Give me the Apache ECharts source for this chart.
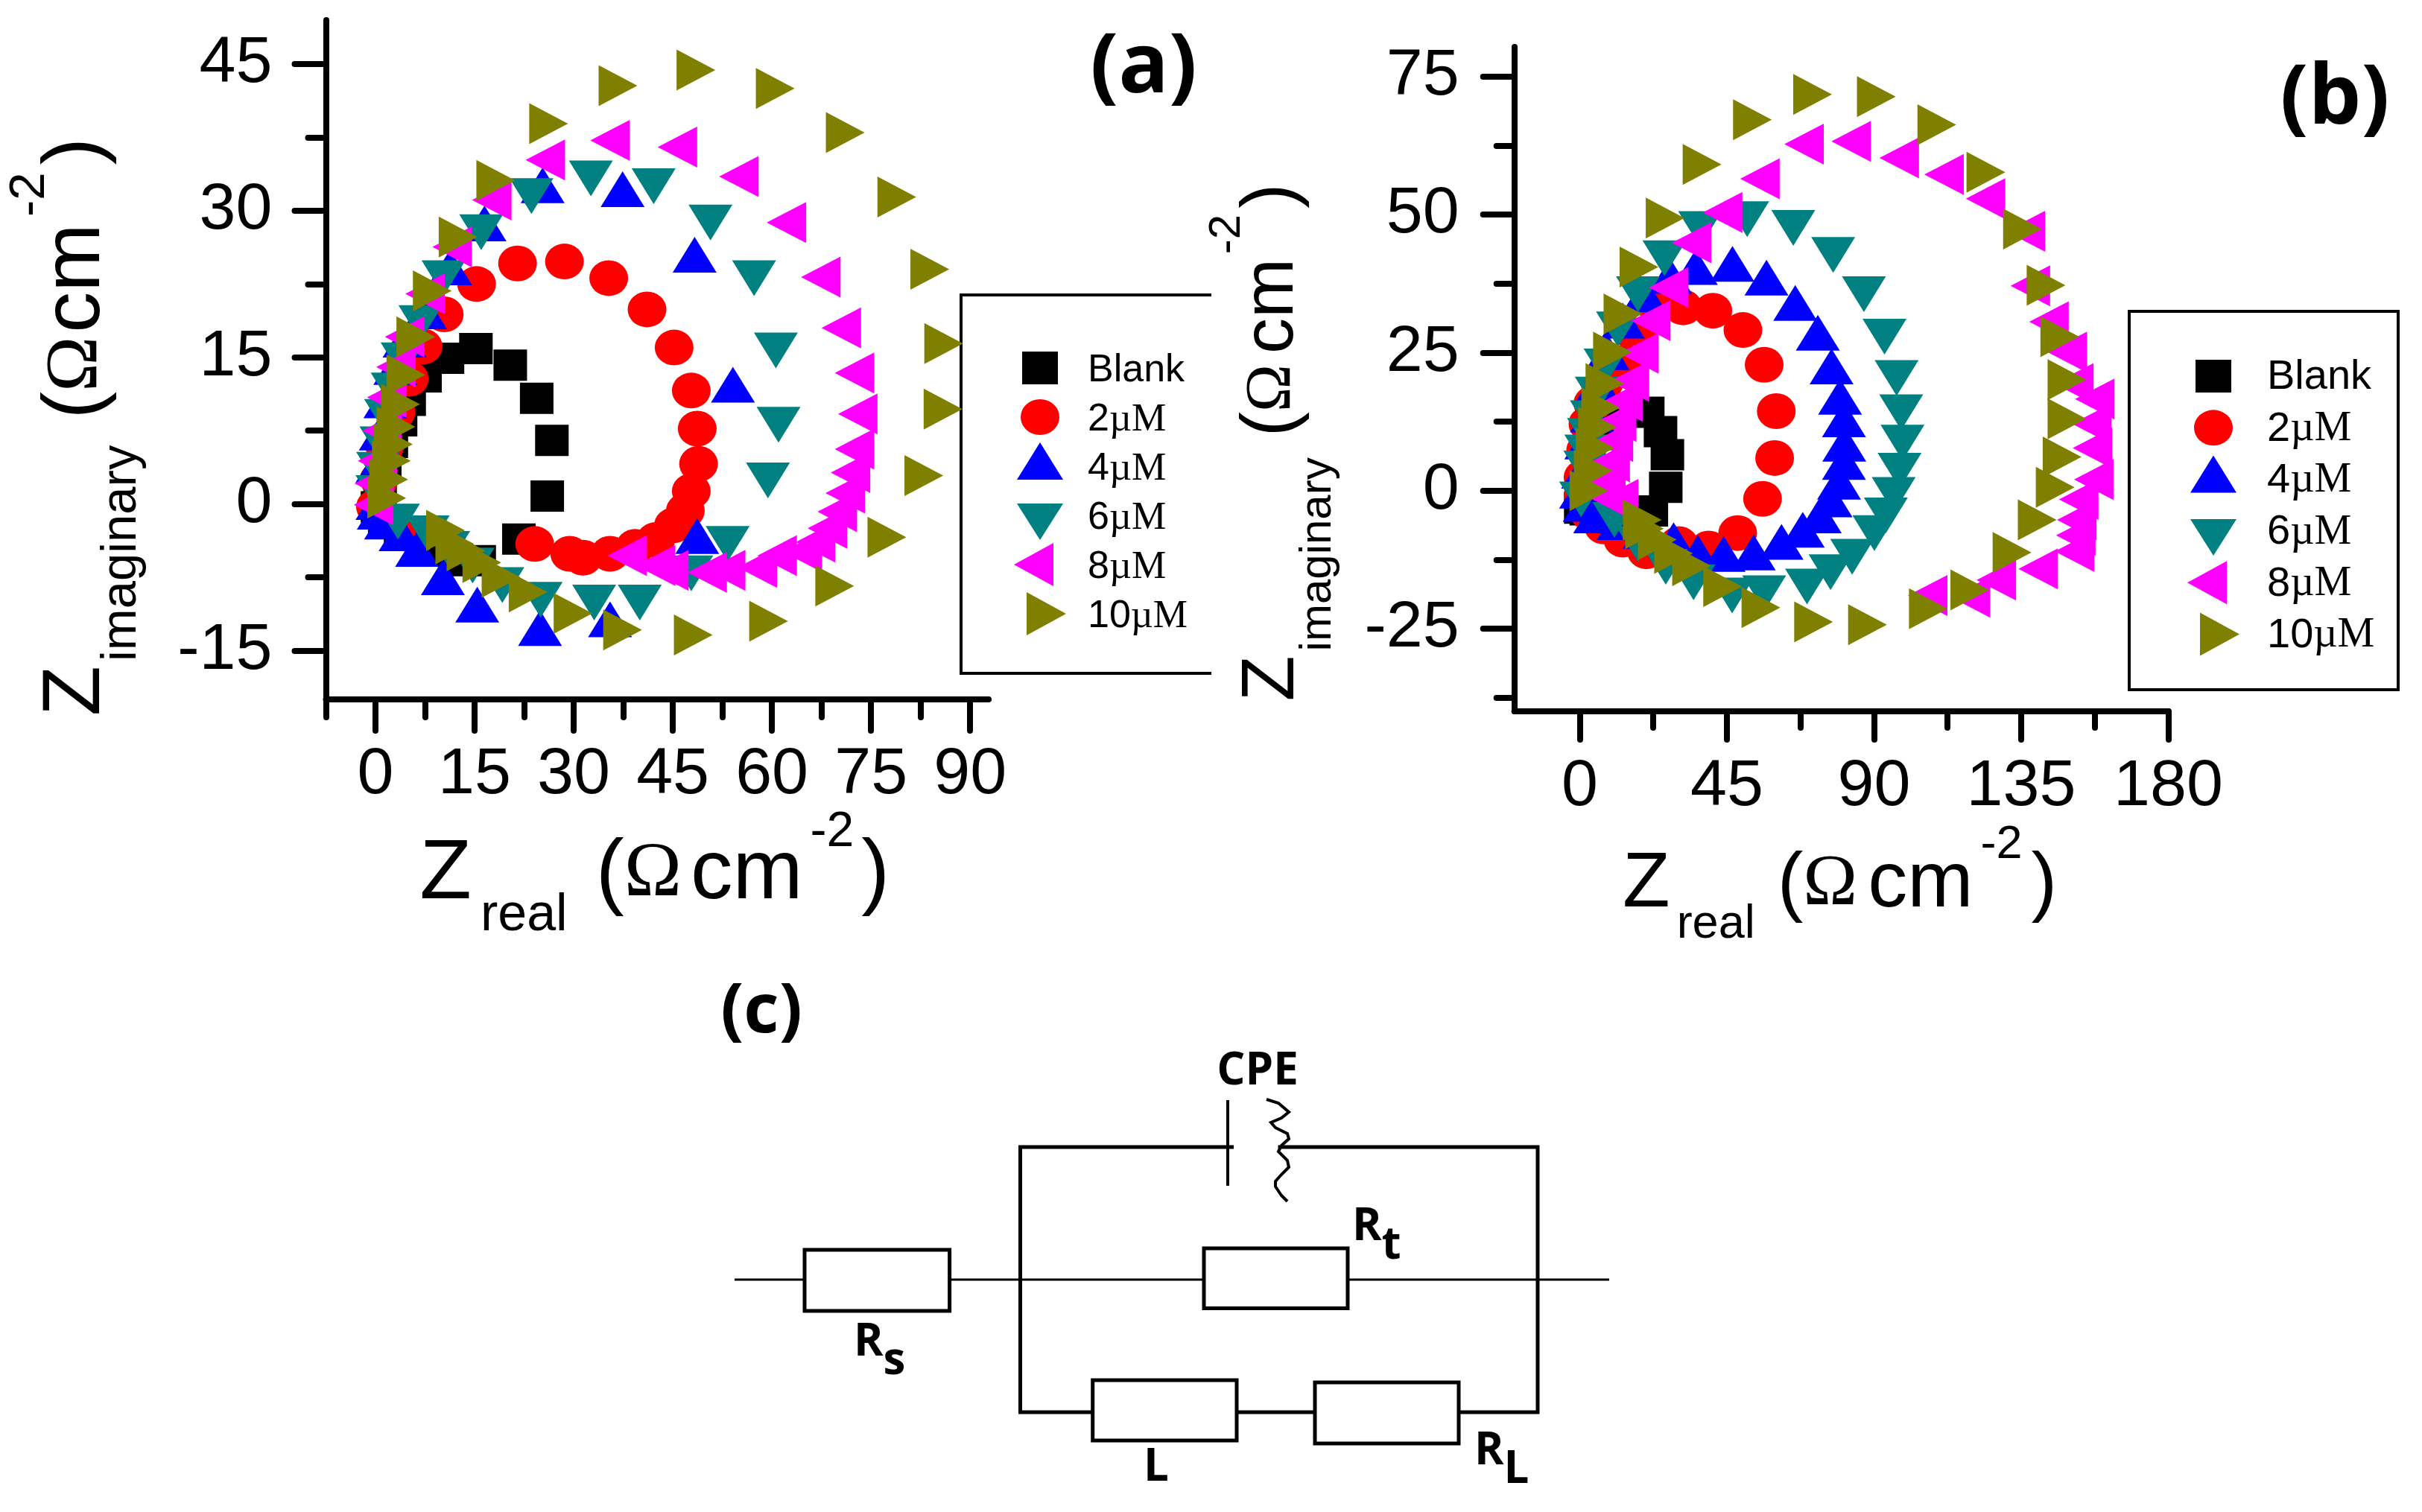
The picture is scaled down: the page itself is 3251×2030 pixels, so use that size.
<!DOCTYPE html>
<html><head><meta charset="utf-8">
<style>html,body{margin:0;padding:0;background:#fff}#c{width:3251px;height:2030px}</style>
<script src="https://cdn.jsdelivr.net/npm/echarts@6/dist/echarts.min.js"></script>
</head><body><div id="c"></div>
<script>
// ---- panel (a) data: [Zreal, Zimaginary]
const aBlank=[[15.2,15.9],[10.9,14.9],[7.5,13.0],[5.1,10.6],[3.8,8.5],[2.4,6.3],[1.4,4.0],[0.7,1.6],[0.3,-0.3],[1.4,-1.8],[3.8,-3.2],[8.2,-4.6],[12.0,-5.8],[15.7,-5.8],[21.7,-3.6],[26.0,0.8],[26.7,6.5],[24.4,10.8],[20.4,14.2]];
const a2=[[0,-0.3],[0.55,2.5],[1.4,5.9],[3.1,9.4],[5.1,12.8],[7.2,16.1],[10.4,19.4],[15.3,22.5],[21.5,24.6],[28.6,24.8],[35.3,23.1],[41.1,19.9],[45.2,16.0],[47.8,11.6],[48.7,7.7],[48.9,4.1],[47.8,1.3],[46.9,-0.7],[45.1,-2.2],[42.4,-3.7],[39.3,-4.4],[35.5,-5.1],[31.4,-5.5],[29.4,-5.1],[24.1,-4.1],[6.1,-3.4],[2.0,-1.8]];
const a4=[[0.3,0.2],[0.3,4.0],[0.8,7.3],[1.5,10.6],[3.0,14.0],[4.4,16.8],[7.5,19.7],[11.3,24.2],[16.5,28.7],[25.3,32.6],[37.4,32.2],[48.3,25.5],[54.1,12.2],[48.7,-3.3],[35.5,-11.8],[24.9,-12.7],[15.4,-10.3],[10.2,-7.5],[6.3,-4.6],[3.8,-3.0],[1.6,-1.8],[0.5,-0.8]];
const a6=[[0.3,1.1],[0.4,3.5],[0.9,6.1],[1.6,8.9],[2.6,11.6],[4.1,14.7],[6.8,18.5],[10.3,23.1],[16.0,27.8],[23.6,31.5],[32.6,33.3],[42.1,32.5],[50.7,28.8],[57.3,23.1],[60.6,15.7],[61.0,8.1],[59.4,2.4],[53.3,-4.1],[47.8,-7.1],[40.0,-10.1],[33.1,-10.1],[25.0,-9.8],[19.2,-8.3],[14.7,-6.3],[11.0,-4.6],[7.9,-3.0],[3.4,-1.8]];
const a8=[[-0.3,-0.1],[-0.2,2.1],[0.3,4.4],[1.0,7.5],[1.7,10.9],[3.1,14.0],[4.4,17.1],[7.5,21.5],[11.6,26.3],[17.6,31.1],[25.7,35.2],[35.5,37.2],[45.7,36.5],[55.0,33.5],[62.2,28.8],[67.4,23.2],[70.5,18.0],[72.5,13.4],[73.0,9.2],[72.5,5.6],[71.9,3.2],[71.1,1.1],[69.9,-0.8],[68.4,-2.5],[66.6,-3.9],[64.6,-4.9],[60.8,-5.3],[57.8,-6.5],[53.0,-6.8],[50.2,-7.0],[44.4,-6.8],[42.4,-6.3],[38.1,-5.3]];
const a10=[[1.7,0.6],[2.0,2.5],[2.4,4.4],[2.7,6.1],[3.1,7.9],[3.8,10.2],[4.6,13.2],[6.1,17.1],[8.6,21.8],[12.5,27.3],[18.2,33.1],[26.2,38.9],[36.7,42.8],[48.5,44.4],[60.5,42.5],[71.1,38.0],[78.9,31.4],[83.9,24.0],[86.0,16.4],[85.9,9.7],[83.0,2.9],[77.4,-3.4],[69.5,-8.4],[59.5,-12.0],[48.1,-13.4],[37.4,-12.9],[29.9,-11.2],[23.1,-9.0],[19.0,-7.5],[16.1,-6.0],[13.7,-4.8],[12.0,-4.1],[10.6,-2.7]];
// ---- panel (b) data
const bBlank=[[0.3,-3.2],[2,-3.5],[8.0,-5],[15.8,-5.5],[21.9,-3.7],[26.3,0.6],[26.8,6.5],[24.7,10.7],[20.8,14.2],[11.9,14.6],[5.4,10.5],[2.8,5.7],[1,0.8]];
const b2=[[1,2.4],[1.8,7.3],[2.5,12.1],[4,15.8],[7.3,19.4],[13.2,23.1],[17.8,27.5],[23.7,33.2],[31.6,33.2],[40.7,32.6],[49.9,29.1],[56.4,22.8],[60.1,14.4],[59.6,5.9],[55.9,-1.5],[48.3,-7.7],[39.4,-10.5],[30.3,-9.7],[20.4,-11],[13.2,-8.9],[7.3,-6.5],[3,-4.1],[1,-0.8]];
const b4=[[0.4,0],[1,3.6],[2,8.9],[3.7,13.8],[5.5,19.4],[8.5,25.1],[13.2,30.8],[19.8,35.6],[27.6,38.9],[35.5,40.5],[46.7,41.1],[57.1,38.6],[65.9,34.0],[72.8,28.6],[77.0,22.5],[79.6,17.0],[80.8,12.9],[80.9,8.5],[80.8,5.2],[79.3,1.6],[76.7,-1.6],[73.4,-4.5],[68.2,-7.1],[61.7,-9.3],[53.2,-11.2],[44,-11.5],[36.1,-11.3],[28.7,-9],[19.8,-7.3],[11.9,-5.7],[4.7,-4.5],[1.5,-2.4]];
const b6=[[0.4,-1.6],[1.7,4],[2,6.9],[2.8,9.9],[3.7,13.1],[5.2,17.4],[7.9,22.5],[11.7,29.2],[17.8,35.6],[25.9,42.1],[36.8,47.4],[51.2,49.2],[65.3,47.6],[77.5,42.7],[86.9,35.6],[93.2,27.9],[96.9,20.4],[98.3,14.2],[98.7,8.7],[97.8,3.6],[96.0,-0.8],[93.6,-4.5],[90.1,-7.7],[83.3,-12],[76.7,-14.8],[69.5,-17.4],[56.4,-18.6],[46.6,-19.0],[34.8,-16.6],[26.3,-13.8],[17.8,-9.7],[10.6,-5.3]];
const b8=[[7.3,-0.8],[5.4,0],[8,2],[9.3,5.2],[10.3,8.9],[11.3,12.5],[13.2,16.2],[15.2,19.8],[18.1,24.9],[21.7,30.8],[27.2,36.8],[34.2,44.9],[43.7,50.4],[55.1,56.5],[68.6,62.8],[83,63.3],[97.7,60.3],[111.4,57.3],[124.1,52.9],[136.3,47],[137.8,37.1],[143.5,30.6],[149.1,25.1],[151.1,19.4],[157.5,16.6],[156.6,12.1],[156.8,7.7],[157.2,2],[152.6,-1.6],[152,-5.3],[151.7,-8.1],[151.3,-11],[140.2,-14.2],[127.4,-16.2],[119.5,-19.3],[106.4,-19.0],[11.9,-1.6]];
const b10=[[2.8,0],[4.1,3.6],[4.7,7.7],[5.4,11.5],[6.4,15],[7.7,19.4],[10,25.1],[13.2,32],[18.1,40.5],[26.1,49.4],[37.4,59.1],[52.8,67.2],[71.2,71.8],[90.7,71.4],[109.2,66.3],[124.2,57.7],[135.4,47.4],[142.6,37.2],[146.8,27.9],[149,20.1],[149,13],[147.5,6.1],[145.4,0.6],[139.9,-5.3],[132.2,-11.2],[119.3,-18],[106.6,-21.4],[88,-24.3],[71.5,-23.8],[55.4,-21.2],[43.7,-17.4],[34.2,-13.6],[28.7,-11.4],[23.7,-8.9],[19.8,-6.9],[19.1,-5.3]];
// ---- legend names and axis ticks
const seriesNames=['Blank','2µM','4µM','6µM','8µM','10µM'];
const aXMajor=[0,15,30,45,60,75,90], aXMinor=[-7.5,7.5,22.5,37.5,52.5,67.5,82.5];
const aYMajor=[-15,0,15,30,45], aYMinor=[-7.5,7.5,22.5,37.5];
const bXMajor=[0,45,90,135,180], bXMinor=[22.5,67.5,112.5,157.5];
const bYMajor=[-25,0,25,50,75], bYMinor=[-37.5,-12.5,12.5,37.5,62.5];

const SANS='"Liberation Sans",Arial,sans-serif', SERIF='"Liberation Serif",serif', BOLD='"Open Sans",sans-serif';
const chart=echarts.init(document.getElementById('c'),null,{renderer:'canvas'});

function titleRich(o){ return {
  z:{fontFamily:SANS,fontSize:o.z,lineHeight:o.L,color:'#000'},
  sub:{fontFamily:SANS,fontSize:o.sub,lineHeight:o.sub,verticalAlign:'bottom',color:'#000',padding:[0,0,0,o.p[0]]},
  lp:{fontFamily:SANS,fontSize:o.z,lineHeight:o.L,color:'#000',padding:[0,0,0,o.p[1]]},
  om:{fontFamily:SERIF,fontSize:o.om,lineHeight:o.L,color:'#000'},
  cm:{fontFamily:SANS,fontSize:o.cm,lineHeight:o.L,color:'#000',padding:[0,0,0,o.p[2]]},
  sup:{fontFamily:SANS,fontSize:o.sup,lineHeight:o.supH,verticalAlign:'top',color:'#000',padding:[0,0,0,o.p[3]]},
  rp:{fontFamily:SANS,fontSize:o.z,lineHeight:o.L,color:'#000',padding:[0,0,0,o.p[4]]}
};}
function title(sub){return '{z|Z}{sub|'+sub+'}{lp|(}{om|Ω}{cm|cm}{sup|-2}{rp|)}';}

function axisPair(type,grid,min,max,major,minor,nm,gap,rich,pad,labelMargin,majLen,minLen){
  const common={type:'value',gridIndex:grid,min,max,position:type==='x'?'bottom':'left',splitLine:{show:false},z:2};
  const tick=(vals,len)=>({show:true,length:len,inside:false,customValues:vals,lineStyle:{color:'#000',width:8,cap:'round'}});
  return [
   Object.assign({},common,{
     axisLine:{show:true,onZero:false,lineStyle:{color:'#000',width:8,cap:'round'}},
     axisTick:tick(major,majLen),
     axisLabel:{show:true,customValues:major,margin:labelMargin,fontFamily:SANS,fontSize:88,color:'#000',showMinLabel:true,showMaxLabel:true,hideOverlap:false},
     name:nm,nameLocation:'middle',nameGap:gap,nameRotate:type==='x'?0:90,nameMoveOverlap:false,
     nameTextStyle:{rich,padding:pad}
   }),
   Object.assign({},common,{
     axisLine:{show:false,onZero:false},
     axisTick:tick(minor,minLen),
     axisLabel:{show:false}
   })
  ];
}
const xRichA=titleRich({z:114,sub:70,sup:66,om:104,cm:113,L:180,supH:98,p:[12,38,12,10,10]});
const yRichA=titleRich({z:110,sub:67,sup:67,om:100,cm:110,L:190,supH:106,p:[6,35,5,9,10]});
const xRichB=titleRich({z:104,sub:63,sup:63,om:98,cm:106,L:170,supH:100,p:[9,30,14,10,12]});
const yRichB=titleRich({z:100,sub:60,sup:60,om:86,cm:96,L:182,supH:100,p:[6,28,14,6,8]});

const xAxes=[
 ...axisPair('x',0,-7.5,92.8,aXMajor,aXMinor,title('real'),146,xRichA,[0,7,0,0],58,42,24),
 ...axisPair('x',1,-20,180,bXMajor,bXMinor,title('real'),148,xRichB,[0,4,0,0],58,38,22)
];
const yAxes=[
 ...axisPair('y',0,-20,49.5,aYMajor,aYMinor,title('imaginary'),240,yRichA,[0,180,0,0],72,42,24),
 ...axisPair('y',1,-40,80.4,bYMajor,bYMinor,title('imaginary'),233,yRichB,[0,170,0,0],74,42,24)
];

const styles=[
 {symbol:'rect',size:[45,42],rotate:0,color:'#000000'},
 {symbol:'circle',size:[52,48],rotate:0,color:'#ff0000'},
 {symbol:'triangle',size:[59,48],rotate:0,color:'#0000ff'},
 {symbol:'triangle',size:[59,48],rotate:180,color:'#008080'},
 {symbol:'triangle',size:[55,53],rotate:90,color:'#ff00ff'},
 {symbol:'triangle',size:[55,52],rotate:-90,color:'#808000'}
];
const dataA=[aBlank,a2,a4,a6,a8,a10], dataB=[bBlank,b2,b4,b6,b8,b10];
const series=[];
[[dataA,0,0],[dataB,2,2]].forEach(([sets,xi,yi])=>{
  sets.forEach((d,i)=>{
    const s=styles[i];
    series.push({type:'scatter',name:seriesNames[i],xAxisIndex:xi,yAxisIndex:yi,data:d,clip:false,
      symbol:s.symbol,symbolSize:s.size,symbolRotate:s.rotate,
      itemStyle:{color:s.color,opacity:1},emphasis:{disabled:true},z:3+i});
  });
});

// legend icons: each path keeps a 70x66 frame (zero-area corners) so markers can sit off-centre as in the figure
const FRAME='M0,0L0,0ZM70,66L70,66Z';
const legendIcons=[
 'path://'+FRAME+'M11,11L59,11L59,55L11,55Z',
 'path://'+FRAME+'M9,33a26,24 0 1 0 52,0a26,24 0 1 0 -52,0Z',
 'path://'+FRAME+'M4,51L35,1L66,51Z',
 'path://'+FRAME+'M4,17L66,17L35,66Z',
 'path://'+FRAME+'M0,33L53,4L53,62Z',
 'path://'+FRAME+'M17,4L70,33L17,62Z'
];
function legendCfg(left,top,gap,font,textPad,textDown){
  return {left,top,orient:'vertical',padding:0,itemWidth:70,itemHeight:66,itemGap:gap,selectedMode:false,symbolKeepAspect:true,
    data:seriesNames.map((n,i)=>({name:n,icon:legendIcons[i],symbolKeepAspect:true,itemStyle:{color:styles[i].color}})),
    formatter:n=>n==='Blank'?'{u|Blank}':'{u|'+n.replace('µM','')+'}{m|µM}',
    textStyle:{rich:{
      u:{fontFamily:SANS,fontSize:font,lineHeight:50,color:'#000',padding:[textDown,0,0,textPad]},
      m:{fontFamily:SERIF,fontSize:font,lineHeight:50,color:'#000',padding:[textDown,0,0,0]}
    }}};
}

function ln(points,w){return {type:'polyline',shape:{points},style:{stroke:'#000',lineWidth:w||3,fill:null,lineJoin:'miter'},z:5};}
function box(x1,y1,x2,y2,w){return {type:'rect',shape:{x:x1,y:y1,width:x2-x1,height:y2-y1},style:{stroke:'#000',lineWidth:w||4,fill:null},z:5};}
function tag(t,x,y,size){return {type:'text',x,y,z:6,style:{text:t,fontFamily:BOLD,fontWeight:'bold',fontSize:size,fill:'#000',align:'center',verticalAlign:'middle'}};}
function resist(main,sub,x,base){
  return {type:'text',x,y:base-76.6,z:6,style:{text:'{r|'+main+'}{s|'+sub+'}',align:'left',verticalAlign:'top',
    rich:{r:{fontFamily:BOLD,fontWeight:'bold',fontSize:60,lineHeight:110,fill:'#000',color:'#000'},
          s:{fontFamily:BOLD,fontWeight:'bold',fontSize:60,lineHeight:60,verticalAlign:'bottom',fill:'#000',color:'#000'}}}};
}
const cpeWave=[[1700,1476],[1716,1481],[1730,1493],[1720,1501],[1706,1507],[1712,1514],[1728,1522],[1730,1529],[1720,1538],[1716,1546],[1728,1558],[1730,1567],[1720,1577],[1712,1586],[1712,1593],[1720,1605],[1728,1613]];

const graphic={elements:[
  ln([[1626,396],[1290,396],[1290,904],[1626,904]],4),
  box(2858,418,3219,926,4),
  tag('(a)',1535,92,112), tag('(b)',3134,134,112), tag('(c)',1022,1360,92),
  ln([[986,1718],[1080,1718]]), box(1080,1678,1274.6,1760,5), ln([[1274.6,1718],[1616,1718]]),
  box(1616,1676,1809,1756.5,5), ln([[1809,1718],[2160,1718]]),
  ln([[1656,1540],[1369.5,1540],[1369.5,1896],[1466.7,1896]],5),
  ln([[1715.5,1540],[2064,1540],[2064,1896],[1958,1896]],5),
  box(1466.7,1853,1660,1934,5), ln([[1660,1896],[1765,1896]],5), box(1765,1856,1958,1938,5),
  ln([[1648,1477],[1648,1592]],4), ln(cpeWave,4),
  {type:'text',x:1688,y:1439,z:6,style:{text:'CPE',fontFamily:BOLD,fontWeight:'bold',fontSize:60,fill:'#000',align:'center',verticalAlign:'middle'}},
  resist('R','t',1815,1670), resist('R','s',1146,1825),
  {type:'text',x:1552,y:1971,z:6,style:{text:'L',fontFamily:BOLD,fontWeight:'bold',fontSize:60,fill:'#000',align:'center',verticalAlign:'middle'}},
  resist('R','L',1979,1971)
]};

chart.setOption({
  animation:false,backgroundColor:'#fff',
  grid:[
    {left:437.5,top:27,width:889.5,height:912},
    {left:2032.7,top:63,width:877.8,height:892}
  ],
  xAxis:xAxes,yAxis:yAxes,series,
  legend:[legendCfg(1361,461,0,52,24,8),legendCfg(2936,472,3.3,56,32,4)],
  graphic
});
</script></body></html>
